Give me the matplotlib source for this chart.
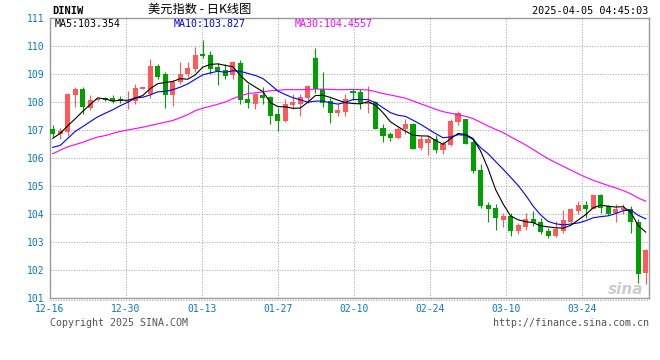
import matplotlib
matplotlib.use("Agg")
import matplotlib.pyplot as plt
import numpy as np

# daily candles 2024-12-16 .. 2025-04-04 (DINIW)
opens = [107.05, 106.86, 106.93, 108.25, 108.45, 107.80, 108.07, 108.13, 108.13, 108.12,
         108.00, 108.04, 108.47, 108.30, 109.27, 108.99, 108.25, 108.73, 109.01, 109.17,
         109.73, 109.67, 109.25, 109.13, 108.96, 109.40, 108.10, 107.92, 108.24, 108.18,
         107.56, 107.32, 107.89, 107.92, 108.15, 109.56, 108.48, 108.04, 107.60, 107.65,
         108.39, 108.36, 107.93, 108.00, 107.08, 106.85, 106.70, 107.02, 107.20, 106.35,
         106.52, 106.69, 106.29, 106.46, 107.29, 107.38, 106.57, 105.56, 104.31, 104.20,
         103.79, 103.93, 103.39, 103.54, 103.81, 103.73, 103.39, 103.21, 103.39, 103.73,
         104.10, 104.31, 104.19, 104.68, 104.29, 104.02, 104.13, 104.19, 103.73, 101.88]
highs = [107.18, 107.08, 108.31, 108.54, 108.55, 108.24, 108.15, 108.18, 108.25, 108.23,
         108.38, 108.63, 108.55, 109.55, 109.35, 109.08, 108.80, 109.44, 109.43, 109.96,
         110.23, 109.82, 109.40, 109.37, 109.46, 109.50, 108.65, 108.33, 108.55, 108.21,
         107.77, 108.10, 108.30, 108.30, 108.60, 109.92, 109.07, 108.13, 107.98, 108.27,
         108.48, 108.48, 108.57, 108.04, 107.20, 106.93, 107.14, 107.38, 107.26, 106.79,
         106.81, 106.82, 106.61, 107.38, 107.68, 107.40, 106.67, 105.77, 104.43, 104.35,
         104.05, 104.05, 103.69, 104.05, 104.11, 103.87, 103.51, 103.75, 104.14, 104.23,
         104.46, 104.46, 104.71, 104.73, 104.31, 104.37, 104.35, 104.29, 103.81, 102.74]
lows = [106.75, 106.67, 106.79, 107.83, 107.56, 107.70, 108.04, 108.04, 107.98, 107.95,
        107.75, 107.92, 108.45, 108.13, 108.81, 107.77, 107.86, 108.63, 108.89, 109.08,
        109.58, 109.01, 108.60, 108.81, 108.83, 107.92, 107.80, 107.74, 107.92, 107.20,
        106.96, 107.30, 107.74, 107.50, 107.98, 108.33, 107.82, 107.26, 107.50, 107.50,
        108.07, 107.74, 107.62, 107.02, 106.57, 106.61, 106.67, 106.87, 106.31, 106.27,
        106.10, 106.19, 106.13, 106.43, 107.17, 106.49, 105.48, 104.23, 103.71, 103.42,
        103.54, 103.21, 103.30, 103.42, 103.57, 103.30, 103.15, 103.18, 103.31, 103.69,
        103.99, 103.87, 104.17, 104.05, 103.95, 103.73, 103.99, 103.31, 101.55, 101.49]
closes = [106.85, 106.95, 108.27, 108.45, 107.82, 108.08, 108.12, 108.07, 108.05, 108.02,
          108.05, 108.51, 108.53, 109.29, 108.90, 108.25, 108.71, 109.01, 109.20, 109.68,
          109.63, 109.19, 109.11, 108.93, 109.44, 108.07, 107.95, 108.27, 108.13, 107.50,
          107.32, 107.92, 108.00, 108.18, 108.57, 108.48, 107.98, 107.60, 107.70, 108.12,
          108.33, 107.92, 108.00, 107.05, 106.79, 106.70, 107.05, 107.20, 106.33, 106.67,
          106.67, 106.27, 106.51, 107.32, 107.60, 106.51, 105.54, 104.29, 104.17, 103.87,
          103.93, 103.39, 103.61, 103.83, 103.69, 103.36, 103.21, 103.45, 103.77, 104.17,
          104.32, 104.17, 104.68, 104.23, 103.99, 104.17, 104.23, 103.71, 101.85, 102.71]

ma5 = [106.70, 106.88, 107.15, 107.40, 107.668, 107.914, 108.148, 108.108, 108.028, 108.068,
       108.062, 108.14, 108.232, 108.48, 108.656, 108.696, 108.736, 108.832, 108.814, 108.97,
       109.246, 109.342, 109.362, 109.308, 109.26, 108.948, 108.70, 108.532, 108.372, 107.984,
       107.834, 107.828, 107.774, 107.784, 107.998, 108.23, 108.242, 108.162, 108.066, 107.976,
       107.946, 107.934, 108.014, 107.884, 107.618, 107.292, 107.118, 106.958, 106.814, 106.79,
       106.784, 106.628, 106.49, 106.688, 106.874, 106.842, 106.696, 106.252, 105.622, 104.876,
       104.36, 103.93, 103.794, 103.726, 103.69, 103.576, 103.54, 103.508, 103.496, 103.592,
       103.784, 103.976, 104.222, 104.314, 104.278, 104.248, 104.26, 104.066, 103.59, 103.354]
ma10 = [106.38, 106.45, 106.70, 106.95, 107.12, 107.30, 107.47, 107.60, 107.72, 107.868,
        107.988, 108.144, 108.17, 108.254, 108.362, 108.379, 108.438, 108.532, 108.647, 108.813,
        108.971, 109.039, 109.097, 109.061, 109.115, 109.097, 109.021, 108.947, 108.84, 108.622,
        108.391, 108.264, 108.153, 108.078, 107.991, 108.032, 108.035, 107.968, 107.925, 107.987,
        108.088, 108.088, 108.088, 107.975, 107.797, 107.619, 107.526, 107.486, 107.349, 107.204,
        107.038, 106.873, 106.724, 106.751, 106.832, 106.813, 106.662, 106.371, 106.155, 105.875,
        105.601, 105.313, 105.023, 104.674, 104.283, 103.968, 103.735, 103.651, 103.611, 103.641,
        103.68, 103.758, 103.865, 103.905, 103.935, 104.016, 104.118, 104.144, 103.952, 103.827]
ma30 = [106.15, 106.28, 106.40, 106.48, 106.56, 106.66, 106.75, 106.80, 106.88, 106.95,
        107.00, 107.05, 107.10, 107.16, 107.22, 107.28, 107.34, 107.44, 107.55, 107.69,
        107.78, 107.85, 107.92, 108.00, 108.12, 108.22, 108.30, 108.33, 108.36, 108.40,
        108.42, 108.44, 108.44, 108.44, 108.45, 108.46, 108.46, 108.45, 108.44, 108.44,
        108.45, 108.44, 108.43, 108.371, 108.301, 108.249, 108.194, 108.134, 108.038, 107.938,
        107.839, 107.742, 107.655, 107.601, 107.54, 107.488, 107.408, 107.275, 107.143, 107.022,
        106.909, 106.758, 106.612, 106.467, 106.304, 106.133, 105.974, 105.836, 105.705, 105.573,
        105.44, 105.315, 105.204, 105.11, 105.017, 104.932, 104.838, 104.722, 104.573, 104.4557]

tick_index = [0, 10, 20, 30, 40, 50, 60, 70]
tick_labels = ["12-16", "12-30", "01-13", "01-27", "02-10", "02-24", "03-10", "03-24"]
price_ticks = list(range(101, 112))

RED = "#ff5a5a"
GREEN = "#00a000"
BLUE_TXT = "#0a78c8"
GRID = "#aaaaaa"
MONO = ["DejaVu Sans Mono"]
W, H = 660, 360

o = np.asarray(opens)
h = np.asarray(highs)
l = np.asarray(lows)
c = np.asarray(closes)
x = np.arange(len(c))
colors = np.where(c >= o, RED, GREEN)

fig = plt.figure(figsize=(W / 100, H / 100), dpi=100)
ax = fig.add_axes([50 / W, 62 / H, 599 / W, 280 / H])

grid_x = np.asarray(tick_index) * 1.012 - 0.36
for gx in grid_x[1:]:
    ax.axvline(gx, color=GRID, linewidth=0.75, linestyle=(0, (1, 1.5)), zorder=0)
for py in price_ticks[1:-1]:
    ax.axhline(py, color=GRID, linewidth=0.75, linestyle=(0, (1, 1.5)), zorder=0)

ax.vlines(x, l, h, colors=colors, linewidth=0.8, zorder=2)
body = np.maximum(np.abs(c - o), 0.03)
ax.bar(x, body, bottom=np.minimum(o, c), width=0.68, color=colors,
       linewidth=0, zorder=3)

ax.plot(x, ma30, color="#ff00ff", linewidth=0.8, zorder=4)
ax.plot(x, ma10, color="#0000ff", linewidth=0.8, zorder=4)
ax.plot(x, ma5, color="black", linewidth=0.8, zorder=4)

ax.set_xlim(-0.36, 79.44)
ax.set_ylim(101, 111)
ax.set_xticks(grid_x, labels=tick_labels)
ax.set_yticks(price_ticks, labels=[str(v) for v in price_ticks])
ax.tick_params(length=0, labelcolor=BLUE_TXT, labelsize=7)
ax.tick_params(axis="x", pad=4)
ax.tick_params(axis="y", pad=4)
for lab in ax.get_xticklabels() + ax.get_yticklabels():
    lab.set_family(MONO)
for spine in ax.spines.values():
    spine.set_color("#999999")
    spine.set_linewidth(1)
ax.axhline(101 - 0.08, color=GRID, linewidth=0.75, linestyle=(0, (1, 1.5)),
           clip_on=False)

# header
fig.text(52 / W, 1 - 11.5 / H, "DINIW", family=MONO, fontsize=7.5,
         fontweight="bold", va="center", ha="left")
fig.text(200 / W, 1 - 9.5 / H, "美元指数 - 日K线图",
         family=["Noto Sans CJK SC", "DejaVu Sans"], fontsize=8.8,
         va="center", ha="center")
fig.text(648 / W, 1 - 11.5 / H, "2025-04-05 04:45:03", family=MONO,
         fontsize=7.3, va="center", ha="right")

fig.text(55 / W, 1 - 24 / H, f"MA5:{ma5[-1]:.3f}", family=MONO,
         fontsize=7.2, color="black", va="center")
fig.text(174 / W, 1 - 24 / H, f"MA10:{ma10[-1]:.3f}", family=MONO,
         fontsize=7.2, color="#0000ff", va="center")
fig.text(295 / W, 1 - 24 / H, f"MA30:{ma30[-1]:.4f}", family=MONO,
         fontsize=7.2, color="#ff00ff", va="center")

# footer
fig.text(50 / W, 1 - 323.5 / H, "Copyright 2025 SINA.COM", family=MONO,
         fontsize=7.2, color="#555555", va="center")
fig.text(649 / W, 1 - 323.5 / H, "http://finance.sina.com.cn", family=MONO,
         fontsize=7.2, color="#555555", va="center", ha="right")
fig.text(626 / W, 1 - 290 / H, "sina", fontsize=11, fontweight="bold",
         fontstyle="italic", color="#c0c0c0", alpha=0.8, va="center",
         ha="center", zorder=5)

fig.savefig("out.png", dpi=100)
